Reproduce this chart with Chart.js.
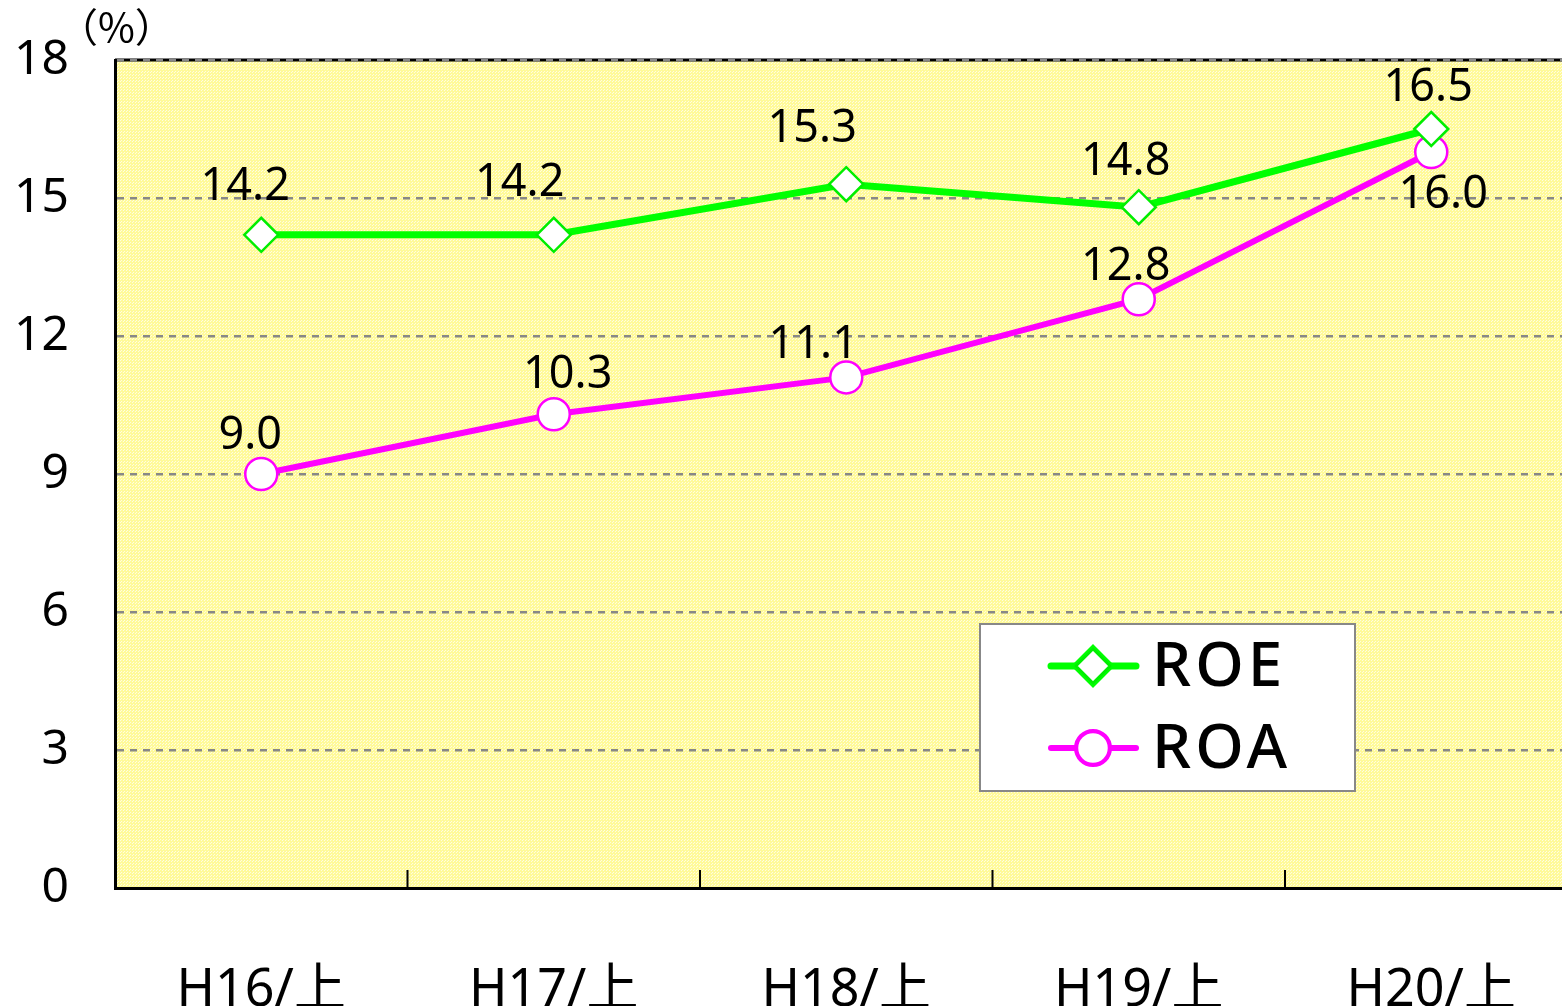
<!DOCTYPE html>
<html>
<head>
<meta charset="utf-8">
<script src="https://cdn.jsdelivr.net/npm/chart.js@4.4.0/dist/chart.umd.min.js"></script>
<style>
  html, body { margin: 0; padding: 0; background: #fff; overflow: hidden; }
  #wrap { width: 1562px; height: 1006px; }
</style>
</head>
<body>
<div id="wrap"><canvas id="chart"></canvas></div>
<script>
// data
const periods = ["H16/上", "H17/上", "H18/上", "H19/上", "H20/上"];
const roeValues = [14.2, 14.2, 15.3, 14.8, 16.5];
const roaValues = [9.0, 10.3, 11.1, 12.8, 16.0];
const yTicks = [0, 3, 6, 9, 12, 15, 18];

// where each value label sits relative to its point (px)
const roeLabelOffsets = [[-16, -48], [-34, -52], [-34, -55], [-13, -45], [-3, -41]];
const roaLabelOffsets = [[-11, -38], [14, -39], [-33, -32], [-13, -32], [12, 43]];

const FONT = "'Noto Sans', 'Noto Sans CJK JP', sans-serif";

// the original plot is cut by the right edge of the picture a bit before
// the end of the last category, so the x range stops short of 4.5
const X_MIN = -0.5;
const X_MAX = 4.447;

// fine yellow dot pattern like the original plot background
function makePattern(ctx) {
    const p = document.createElement("canvas");
    p.width = 3; p.height = 3;
    const pc = p.getContext("2d");
    pc.fillStyle = "#fffa99";
    pc.fillRect(0, 0, 3, 3);
    pc.fillStyle = "#fffde0";
    pc.fillRect(0, 0, 1, 1);
    pc.fillRect(1, 2, 1, 1);
    return ctx.createPattern(p, "repeat");
}

// keep the plot area where the original has it, not where tick labels push it
function noPadding(scale) {
    scale.paddingTop = 0;
    scale.paddingBottom = 0;
    scale.paddingLeft = 0;
    scale.paddingRight = 0;
}

const decorPlugin = {
    id: "decor",
    beforeDraw(chart) {
        const { ctx, chartArea: a } = chart;
        ctx.save();
        ctx.fillStyle = makePattern(ctx);
        ctx.fillRect(a.left, a.top, a.right - a.left, a.bottom - a.top);
        ctx.strokeStyle = "#000";
        ctx.lineWidth = 3;
        ctx.beginPath();
        ctx.moveTo(a.left, a.top);
        ctx.lineTo(a.right, a.top);
        ctx.stroke();
        ctx.restore();
    },
    afterDraw(chart) {
        const { ctx, chartArea: a } = chart;
        const xs = chart.scales.x;
        ctx.save();

        // inner tick marks between categories
        ctx.strokeStyle = "#000";
        ctx.lineWidth = 2;
        for (let i = 0; i < periods.length - 1; i++) {
            const x = xs.getPixelForValue(i + 0.5);
            ctx.beginPath();
            ctx.moveTo(x, a.bottom - 18);
            ctx.lineTo(x, a.bottom);
            ctx.stroke();
        }

        // value labels
        ctx.fillStyle = "#000";
        ctx.font = "45px " + FONT;
        ctx.textAlign = "center";
        ctx.textBaseline = "middle";
        const offsets = [roeLabelOffsets, roaLabelOffsets];
        chart.data.datasets.forEach((ds, di) => {
            chart.getDatasetMeta(di).data.forEach((pt, i) => {
                const [dx, dy] = offsets[di][i];
                ctx.fillText(ds.data[i].y.toFixed(1), pt.x + dx, pt.y + dy);
            });
        });

        // unit label
        ctx.font = "40px 'Noto Sans CJK JP', sans-serif";
        ctx.textAlign = "left";
        ctx.fillText("（%）", 58, 27);

        // legend box
        const lx = 980, ly = 624, lw = 375, lh = 167;
        ctx.fillStyle = "#fff";
        ctx.fillRect(lx, ly, lw, lh);
        ctx.strokeStyle = "#888";
        ctx.lineWidth = 2;
        ctx.strokeRect(lx, ly, lw, lh);

        chart.data.datasets.forEach((ds, di) => {
            const y = ly + (di === 0 ? 42 : 124);
            ctx.strokeStyle = ds.borderColor;
            ctx.lineWidth = ds.borderWidth;
            ctx.lineCap = "round";
            ctx.beginPath();
            ctx.moveTo(lx + 71, y);
            ctx.lineTo(lx + 156, y);
            ctx.stroke();
            Chart.helpers.drawPoint(ctx, {
                pointStyle: ds.pointStyle,
                radius: ds.pointRadius,
                borderWidth: ds.pointBorderWidth
            }, lx + 113, y);
            ctx.fillStyle = "#fff";
            ctx.strokeStyle = ds.pointBorderColor;
            ctx.lineWidth = ds.pointBorderWidth;
            ctx.fill();
            ctx.stroke();
            ctx.fillStyle = "#000";
            ctx.font = "500 62px " + FONT;
            ctx.letterSpacing = "4px";
            ctx.textAlign = "left";
            ctx.textBaseline = "middle";
            ctx.fillText(ds.label, lx + 172, y + 2);
            ctx.letterSpacing = "0px";
        });
        ctx.restore();
    }
};

const toPoints = values => values.map((v, i) => ({ x: i, y: v }));

const ctx = document.getElementById("chart").getContext("2d");
new Chart(ctx, {
    type: "line",
    data: {
        datasets: [{
            label: "ROE",
            data: toPoints(roeValues),
            borderColor: "#00ff00",
            borderWidth: 7,
            pointStyle: "rectRot",
            pointRadius: 17,
            pointBackgroundColor: "#fff",
            pointBorderColor: "#00ee00",
            pointBorderWidth: 2.5,
            tension: 0
        }, {
            label: "ROA",
            data: toPoints(roaValues),
            borderColor: "#ff00ff",
            borderWidth: 6,
            pointStyle: "circle",
            pointRadius: 16,
            pointBackgroundColor: "#fff",
            pointBorderColor: "#ff00ff",
            pointBorderWidth: 2.5,
            tension: 0
        }]
    },
    options: {
        responsive: true,
        maintainAspectRatio: false,
        animation: false,
        layout: {
            autoPadding: false,
            padding: { top: 60, right: 0, left: 0, bottom: 0 }
        },
        plugins: {
            legend: { display: false },
            tooltip: { enabled: false }
        },
        scales: {
            x: {
                type: "linear",
                min: X_MIN,
                max: X_MAX,
                afterBuildTicks(scale) {
                    scale.ticks = periods.map((p, i) => ({ value: i }));
                },
                grid: { display: false, drawTicks: false },
                border: { display: true, color: "#000", width: 3 },
                ticks: {
                    color: "#000",
                    font: { family: FONT, size: 52 },
                    padding: 72,
                    maxRotation: 0,
                    autoSkip: false,
                    callback: v => periods[v]
                },
                afterFit(scale) {
                    scale.height = 118;
                    noPadding(scale);
                }
            },
            y: {
                min: 0,
                max: 18,
                afterBuildTicks(scale) {
                    scale.ticks = yTicks.map(v => ({ value: v }));
                },
                grid: {
                    color: "#888",
                    lineWidth: 2.5,
                    drawTicks: false,
                    tickBorderDash: [7, 6]
                },
                border: { display: true, color: "#000", width: 3, dash: [7, 6] },
                ticks: {
                    color: "#000",
                    font: { family: FONT, size: 48 },
                    padding: 46
                },
                afterFit(scale) {
                    scale.width = 115;
                    noPadding(scale);
                }
            }
        }
    },
    plugins: [decorPlugin]
});
</script>
</body>
</html>
